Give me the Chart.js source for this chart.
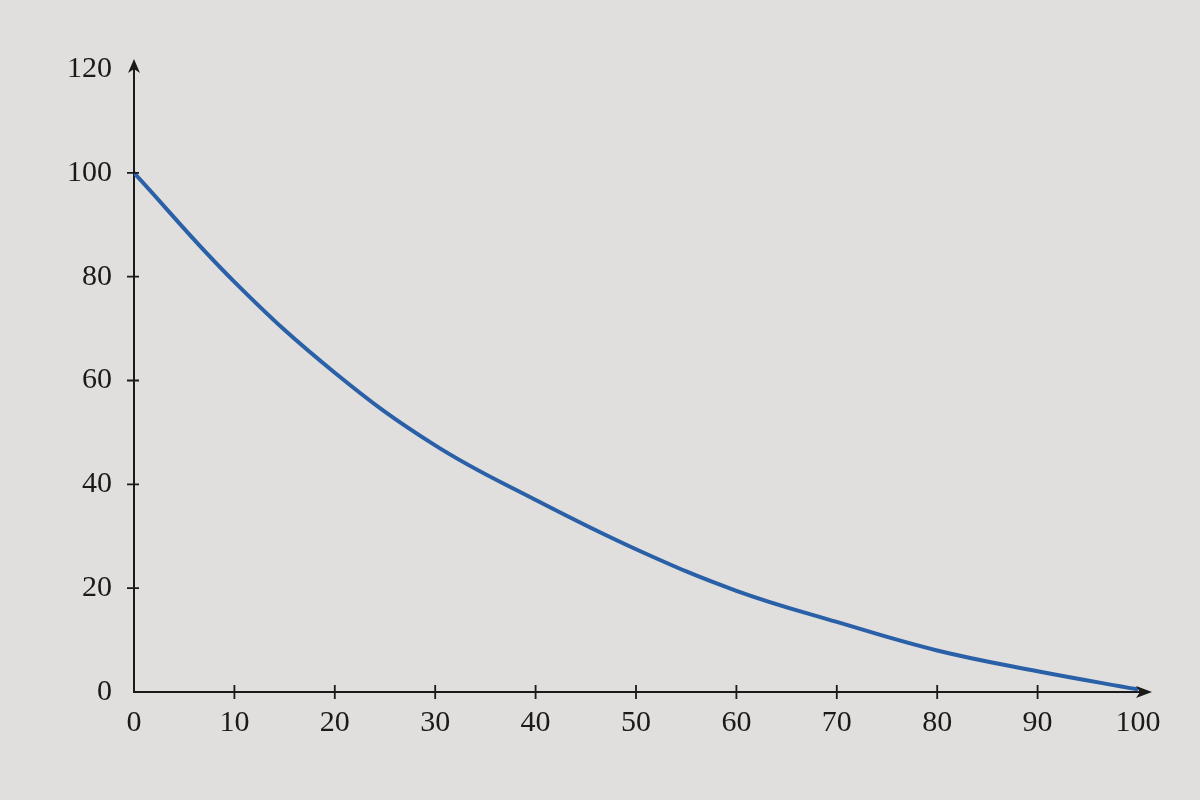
<!DOCTYPE html>
<html>
<head>
<meta charset="utf-8">
<script src="https://cdn.jsdelivr.net/npm/chart.js@4/dist/chart.umd.min.js"></script>
<style>
  html, body { margin: 0; padding: 0; background: #e0dfdd; }
  #wrap { width: 1200px; height: 800px; }
</style>
</head>
<body>
<div id="wrap"><canvas id="chart" width="1200" height="800"></canvas></div>
<script>
// values
const xValues = [0, 10, 20, 30, 40, 50, 60, 70, 80, 90, 100];
const yValues = [100, 79, 61.5, 47.5, 37, 27.5, 19.5, 13.5, 8, 4, 0.5];
const xTicks = [0, 10, 20, 30, 40, 50, 60, 70, 80, 90, 100];
const yTicks = [0, 20, 40, 60, 80, 100, 120];

const inkColor = '#1a1a1a';
const lineColor = '#2a60a7';
const labelFont = { family: 'Liberation Serif', size: 30 };

// arrows at the axis ends and ticks that cross the axis lines
const axisDecor = {
    id: 'axisDecor',
    afterDraw(chart) {
        const ctx = chart.ctx;
        const xs = chart.scales.x;
        const ys = chart.scales.y;
        const x0 = xs.getPixelForValue(0);
        const y0 = ys.getPixelForValue(0);
        const xEnd = xs.getPixelForValue(100);
        const yTop = ys.getPixelForValue(120);

        ctx.save();
        ctx.strokeStyle = inkColor;
        ctx.fillStyle = inkColor;
        ctx.lineWidth = 2;

        // axis extensions
        ctx.beginPath();
        ctx.moveTo(x0, yTop);
        ctx.lineTo(x0, yTop - 2);
        ctx.moveTo(xEnd, y0);
        ctx.lineTo(xEnd + 4, y0);
        ctx.stroke();

        // arrow heads
        ctx.beginPath();
        ctx.moveTo(x0, yTop - 10);
        ctx.lineTo(x0 - 6, yTop + 4);
        ctx.lineTo(x0, yTop);
        ctx.lineTo(x0 + 6, yTop + 4);
        ctx.closePath();
        ctx.fill();

        ctx.beginPath();
        ctx.moveTo(xEnd + 14, y0);
        ctx.lineTo(xEnd - 2, y0 - 6);
        ctx.lineTo(xEnd + 2, y0);
        ctx.lineTo(xEnd - 2, y0 + 6);
        ctx.closePath();
        ctx.fill();

        // crossing tick marks
        ctx.lineWidth = 1.8;
        ctx.beginPath();
        xTicks.forEach(v => {
            if (v === 0 || v === 100) return;
            const px = xs.getPixelForValue(v);
            ctx.moveTo(px, y0 - 7);
            ctx.lineTo(px, y0 + 7);
        });
        yTicks.forEach(v => {
            if (v === 0 || v === 120) return;
            const py = ys.getPixelForValue(v);
            ctx.moveTo(x0 - 7, py);
            ctx.lineTo(x0 + 5, py);
        });
        ctx.stroke();
        ctx.restore();
    }
};

new Chart(document.getElementById('chart').getContext('2d'), {
    type: 'line',
    data: {
        datasets: [{
            data: xValues.map((x, i) => ({ x: x, y: yValues[i] })),
            borderColor: lineColor,
            borderWidth: 4,
            pointRadius: 0,
            fill: false,
            tension: 0.4
        }]
    },
    options: {
        responsive: false,
        animation: false,
        layout: { padding: { left: 0, right: 62, top: 69, bottom: 0 } },
        plugins: {
            legend: { display: false },
            tooltip: { enabled: false }
        },
        scales: {
            x: {
                type: 'linear',
                min: 0,
                max: 100,
                afterBuildTicks: scale => { scale.ticks = xTicks.map(v => ({ value: v })); },
                afterFit: scale => { scale.height = 108; },
                grid: { display: false, drawTicks: false },
                border: { display: true, color: inkColor, width: 2 },
                ticks: { color: inkColor, font: labelFont, padding: 13, maxRotation: 0, autoSkip: false }
            },
            y: {
                type: 'linear',
                min: 0,
                max: 120,
                afterBuildTicks: scale => { scale.ticks = yTicks.map(v => ({ value: v })); },
                afterFit: scale => { scale.width = 134; },
                grid: { display: false, drawTicks: false },
                border: { display: true, color: inkColor, width: 2 },
                ticks: { color: inkColor, font: labelFont, padding: 22 }
            }
        }
    },
    plugins: [axisDecor]
});
</script>
</body>
</html>
